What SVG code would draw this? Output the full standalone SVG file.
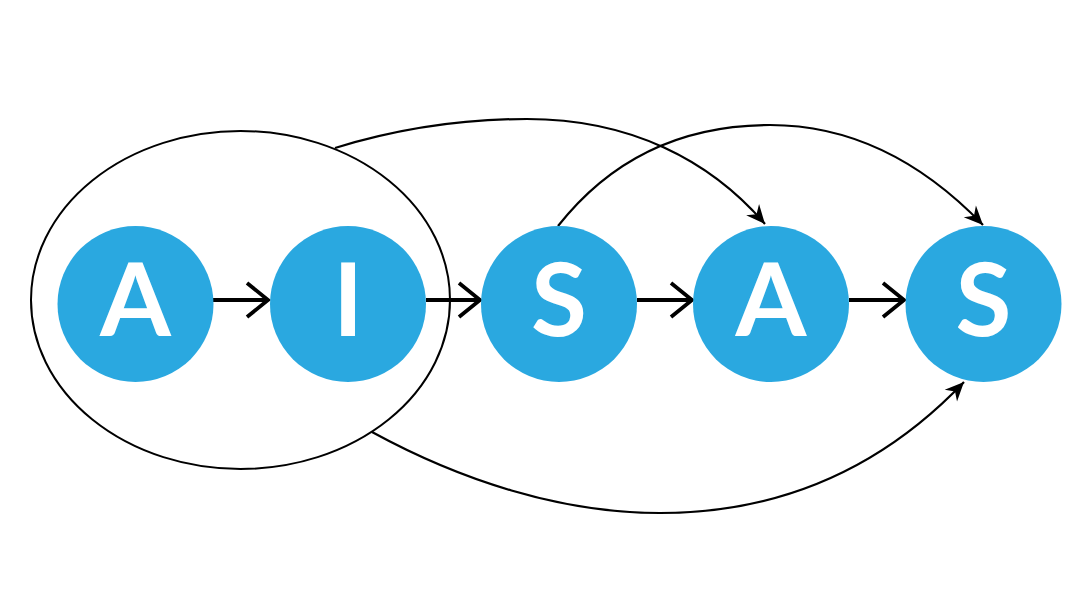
<svg xmlns="http://www.w3.org/2000/svg" width="1080" height="600" viewBox="0 0 1080 600">
  <style>
    .node circle { fill: #2AA8E0; }
    .node text { fill: #ffffff; font-family: Lato, "Open Sans", "Liberation Sans", sans-serif; font-weight: 700; font-size: 102px; text-anchor: middle; }
    .straight { stroke: #000; stroke-width: 3.8; fill: none; }
    .chev { stroke: #000; stroke-width: 3.8; fill: none; }
    .curve { stroke: #000; stroke-width: 2.2; fill: none; marker-end: url(#head); }
    .group { stroke: #000; stroke-width: 2; fill: none; }
  </style>
  <defs>
    <marker id="head" markerUnits="userSpaceOnUse" markerWidth="24" markerHeight="24" viewBox="-21 -12 24 24" refX="0" refY="0" orient="auto">
      <path d="M0,0 L-19,-8.5 L-13,0 L-19,8.5 Z" fill="#000"/>
    </marker>
  </defs>
  <rect width="1080" height="600" fill="#ffffff"/>
  <g id="group-ellipse">
    <ellipse class="group" cx="240.5" cy="300" rx="209.5" ry="169"/>
  </g>
  <g id="connectors">
    <path class="straight" d="M213,300 H267"/>
    <path class="chev" d="M247,283 L268,300 L247,317"/>
    <path class="straight" d="M426,300 H479"/>
    <path class="chev" d="M459,283 L480,300 L459,317"/>
    <path class="straight" d="M637,300 H691"/>
    <path class="chev" d="M671,283 L692,300 L671,317"/>
    <path class="straight" d="M849,300 H903"/>
    <path class="chev" d="M883,283 L904,300 L883,317"/>
    <path class="curve" d="M335,148 C400,128 460,119 527,119 C630,119 710,160 765,224"/>
    <path class="curve" d="M558,226 C610,160 680,125 770,125 C860,125 930,170 983,225"/>
    <path class="curve" d="M372,432 C460,480 560,513 660,513 C780,513 880,470 964,382"/>
  </g>
  <g id="node-A1" class="node">
    <circle cx="135.5" cy="304" r="78"/>
    <text x="135.5" y="336">A</text>
  </g>
  <g id="node-I" class="node">
    <circle cx="348" cy="304" r="78"/>
    <text x="348" y="336">I</text>
  </g>
  <g id="node-S1" class="node">
    <circle cx="559" cy="304" r="78"/>
    <text x="559" y="336">S</text>
  </g>
  <g id="node-A2" class="node">
    <circle cx="771" cy="304" r="78"/>
    <text x="771" y="336">A</text>
  </g>
  <g id="node-S2" class="node">
    <circle cx="983.5" cy="304" r="78"/>
    <text x="983.5" y="336">S</text>
  </g>
</svg>
